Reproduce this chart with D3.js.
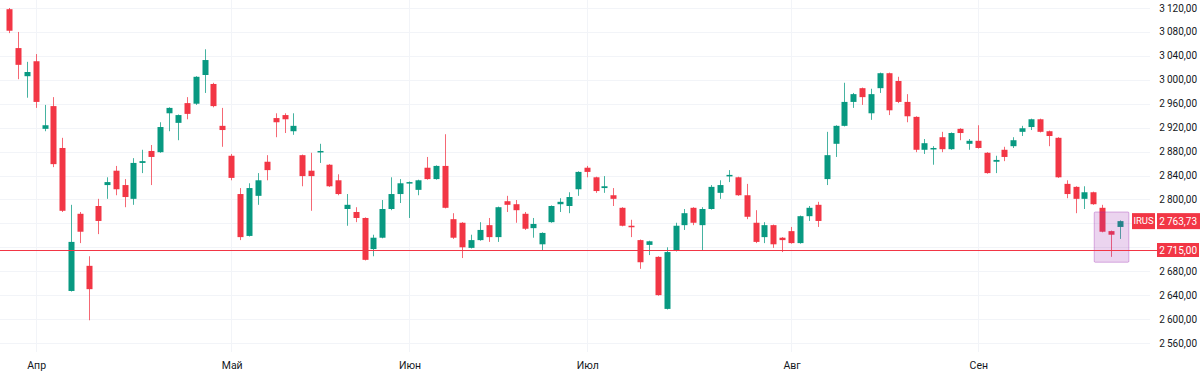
<!DOCTYPE html>
<html>
<head>
<meta charset="utf-8">
<script src="https://cdn.jsdelivr.net/npm/d3@7"></script>
<style>
    html, body { margin: 0; padding: 0; background: #ffffff; }
    svg { display: block; font-family: Roboto, "Noto Sans", sans-serif; }
</style>
</head>
<body>
<svg id="chart" width="1200" height="373"></svg>
<script>
/*jslint browser: true */

// daily candles, Apr..Sep
var opens = [3118, 3053, 3006, 3031, 2918, 2956, 2886, 2647, 2776, 2689, 2789, 2824, 2848, 2824, 2801, 2861, 2881, 2879, 2944, 2928,
    2961, 2960, 3008, 2993, 2923, 2873, 2809, 2739, 2806, 2863, 2936, 2941, 2914, 2874, 2848, 2879, 2858, 2832, 2784, 2779,
    2769, 2717, 2736, 2784, 2809, 2827, 2816, 2853, 2834, 2856, 2767, 2761, 2719, 2732, 2757, 2737, 2797, 2792, 2776, 2752,
    2725, 2762, 2792, 2789, 2817, 2853, 2837, 2819, 2807, 2786, 2756, 2732, 2724, 2704, 2617, 2714, 2757, 2786, 2757, 2784,
    2811, 2839, 2837, 2807, 2761, 2737, 2757, 2736, 2747, 2727, 2772, 2791, 2834, 2893, 2923, 2963, 2986, 2944, 2986, 3011,
    2998, 2963, 2938, 2883, 2884, 2904, 2884, 2918, 2893, 2898, 2878, 2863, 2883, 2889, 2913, 2921, 2934, 2914, 2903, 2826,
    2821, 2801, 2812, 2786, 2747, 2754];
var highs = [3120, 3080, 3030, 3043, 2958, 2971, 2903, 2791, 2779, 2705, 2801, 2837, 2856, 2834, 2869, 2883, 2891, 2929, 2954, 2942,
    2971, 3006, 3051, 2995, 2953, 2876, 2819, 2827, 2844, 2874, 2944, 2944, 2944, 2875, 2878, 2893, 2859, 2842, 2809, 2787,
    2770, 2741, 2799, 2837, 2834, 2830, 2833, 2871, 2857, 2909, 2777, 2762, 2741, 2762, 2769, 2788, 2806, 2799, 2779, 2769,
    2745, 2790, 2802, 2812, 2847, 2856, 2838, 2839, 2819, 2787, 2766, 2733, 2731, 2705, 2720, 2761, 2784, 2787, 2787, 2824,
    2832, 2849, 2838, 2826, 2782, 2762, 2758, 2737, 2754, 2773, 2789, 2796, 2913, 2924, 2995, 2978, 2987, 2985, 3012, 3012,
    3005, 2976, 2939, 2901, 2889, 2913, 2912, 2919, 2901, 2924, 2879, 2873, 2888, 2904, 2923, 2935, 2935, 2915, 2904, 2832,
    2822, 2822, 2813, 2791, 2748, 2765];
var lows = [3078, 3001, 2970, 2953, 2914, 2854, 2779, 2646, 2727, 2598, 2742, 2801, 2807, 2787, 2791, 2844, 2824, 2878, 2914, 2899,
    2934, 2958, 2978, 2954, 2888, 2832, 2732, 2738, 2791, 2832, 2904, 2911, 2908, 2822, 2781, 2861, 2821, 2807, 2756, 2762,
    2698, 2705, 2735, 2782, 2794, 2769, 2807, 2833, 2833, 2785, 2734, 2702, 2718, 2731, 2729, 2729, 2779, 2761, 2749, 2736,
    2714, 2761, 2779, 2777, 2806, 2837, 2811, 2811, 2789, 2755, 2737, 2684, 2707, 2639, 2616, 2713, 2749, 2757, 2715, 2783,
    2801, 2829, 2806, 2767, 2727, 2727, 2719, 2712, 2726, 2726, 2764, 2754, 2824, 2871, 2922, 2953, 2958, 2933, 2978, 2941,
    2961, 2929, 2879, 2876, 2858, 2879, 2883, 2899, 2883, 2885, 2843, 2844, 2864, 2886, 2906, 2916, 2912, 2889, 2836, 2802,
    2777, 2784, 2791, 2745, 2704, 2734];
var closes = [3082, 3025, 3013, 2963, 2924, 2859, 2781, 2729, 2746, 2650, 2764, 2829, 2817, 2804, 2861, 2864, 2871, 2921, 2953, 2941,
    2943, 3005, 3033, 2956, 2916, 2836, 2737, 2819, 2832, 2849, 2929, 2934, 2923, 2839, 2839, 2881, 2822, 2809, 2791, 2769,
    2699, 2736, 2784, 2809, 2827, 2829, 2832, 2834, 2856, 2786, 2736, 2720, 2732, 2749, 2737, 2787, 2791, 2782, 2751, 2759,
    2744, 2789, 2796, 2804, 2846, 2846, 2814, 2822, 2801, 2756, 2754, 2695, 2730, 2640, 2712, 2756, 2777, 2761, 2784, 2821,
    2824, 2841, 2807, 2771, 2729, 2757, 2725, 2732, 2727, 2772, 2786, 2764, 2874, 2923, 2963, 2976, 2971, 2976, 3011, 2949,
    2963, 2939, 2883, 2894, 2886, 2884, 2911, 2911, 2898, 2886, 2844, 2866, 2871, 2899, 2919, 2934, 2913, 2906, 2837, 2809,
    2801, 2812, 2792, 2746, 2741, 2763.73];

var monthLabels = ["Апр", "Май", "Июн", "Июл", "Авг", "Сен"];
var monthStarts = [3, 25, 45, 65, 88, 109];   // candle index of the first session
var priceTicks = [3120, 3080, 3040, 3000, 2960, 2920, 2880, 2840, 2800, 2760, 2720, 2680, 2640, 2600, 2560];

var tickerName = "IRUS";
var lastPrice = 2763.73;
var levelPrice = 2715;
var boxRange = [122.1, 126.0];      // in candle index units
var boxPrices = [2695, 2779];

(function (d3) {
    "use strict";

    var svg = d3.select("#chart"),
        up = "#089981",
        down = "#f23645",
        paneRight = 1150,
        labelRight = 1197,
        candles, x, y, fmt, grid, g, lastY, levelY;

    candles = opens.map(function (o, i) {
        return {i: i, o: o, h: highs[i], l: lows[i], c: closes[i]};
    });

    x = d3.scaleLinear().domain([0, candles.length - 1]).range([9, 1120]);
    y = d3.scaleLinear().domain([2560, 3120]).range([343, 8]);

    fmt = d3.formatLocale({decimal: ",", thousands: "\u2009", grouping: [3], currency: ["", ""]}).format(",.2f");

    // grid
    grid = svg.append("g").attr("class", "grid");
    grid.selectAll("line.h")
        .data(priceTicks)
        .enter().append("line")
        .attr("class", "h")
        .attr("x1", 0).attr("x2", paneRight)
        .attr("y1", function (d) { return Math.round(y(d)) + 0.5; })
        .attr("y2", function (d) { return Math.round(y(d)) + 0.5; })
        .attr("stroke", "#f2f4f8");
    grid.selectAll("line.v")
        .data(monthStarts)
        .enter().append("line")
        .attr("class", "v")
        .attr("x1", function (d) { return Math.round(x(d)) + 0.5; })
        .attr("x2", function (d) { return Math.round(x(d)) + 0.5; })
        .attr("y1", 0).attr("y2", 352)
        .attr("stroke", "#f2f4f8");

    // candles
    g = svg.append("g").attr("class", "candles");
    g.selectAll("line.wick")
        .data(candles)
        .enter().append("line")
        .attr("class", "wick")
        .attr("x1", function (d) { return Math.round(x(d.i)) + 0.5; })
        .attr("x2", function (d) { return Math.round(x(d.i)) + 0.5; })
        .attr("y1", function (d) { return y(d.h); })
        .attr("y2", function (d) { return y(d.l); })
        .attr("stroke", function (d) { return d.c >= d.o ? up : down; })
        .attr("stroke-opacity", 0.75);
    g.selectAll("rect.body")
        .data(candles)
        .enter().append("rect")
        .attr("class", "body")
        .attr("x", function (d) { return Math.round(x(d.i)) - 2.5; })
        .attr("width", 6)
        .attr("y", function (d) { return y(Math.max(d.o, d.c)); })
        .attr("height", function (d) { return Math.max(1.5, Math.abs(y(d.o) - y(d.c))); })
        .attr("fill", function (d) { return d.c >= d.o ? up : down; });

    // highlight box drawn over the last sessions
    svg.append("rect")
        .attr("x", x(boxRange[0]))
        .attr("width", x(boxRange[1]) - x(boxRange[0]))
        .attr("y", y(boxPrices[1]))
        .attr("height", y(boxPrices[0]) - y(boxPrices[1]))
        .attr("fill", "rgba(156, 39, 176, 0.2)")
        .attr("stroke", "rgba(156, 39, 176, 0.35)")
        .attr("rx", 1);

    // horizontal level
    levelY = Math.round(y(levelPrice)) + 0.5;
    svg.append("line")
        .attr("x1", 0).attr("x2", 1157)
        .attr("y1", levelY).attr("y2", levelY)
        .attr("stroke", down);

    // price scale (2720 and 2760 sit under the labels, as in the source)
    svg.append("g").selectAll("text")
        .data(priceTicks.filter(function (d) { return d !== 2720 && d !== 2760; }))
        .enter().append("text")
        .attr("x", labelRight)
        .attr("y", function (d) { return y(d); })
        .attr("dy", "0.35em")
        .attr("text-anchor", "end")
        .attr("font-size", 10)
        .attr("fill", "#131722")
        .text(fmt);

    // time scale
    svg.append("g").selectAll("text")
        .data(monthStarts)
        .enter().append("text")
        .attr("x", function (d) { return x(d) + 1; })
        .attr("y", 365)
        .attr("dy", "0.35em")
        .attr("text-anchor", "middle")
        .attr("font-size", 10.5)
        .attr("fill", "#131722")
        .text(function (d, i) { return monthLabels[i]; });

    // last price + ticker label
    lastY = y(lastPrice);
    svg.append("rect")
        .attr("x", 1132).attr("y", lastY - 8)
        .attr("width", 23).attr("height", 16)
        .attr("fill", down);
    svg.append("text")
        .attr("x", 1143.5).attr("y", lastY)
        .attr("dy", "0.35em")
        .attr("text-anchor", "middle")
        .attr("font-size", 9.5)
        .attr("fill", "#ffffff")
        .text(tickerName);
    svg.append("rect")
        .attr("x", 1157).attr("y", lastY - 8)
        .attr("width", 43).attr("height", 16)
        .attr("fill", down);
    svg.append("text")
        .attr("x", labelRight).attr("y", lastY)
        .attr("dy", "0.35em")
        .attr("text-anchor", "end")
        .attr("font-size", 10)
        .attr("fill", "#ffffff")
        .text(fmt(lastPrice));

    // level label
    svg.append("rect")
        .attr("x", 1157).attr("y", levelY - 7.5)
        .attr("width", 42).attr("height", 14)
        .attr("fill", down);
    svg.append("text")
        .attr("x", labelRight).attr("y", levelY)
        .attr("dy", "0.35em")
        .attr("text-anchor", "end")
        .attr("font-size", 10)
        .attr("fill", "#ffffff")
        .text(fmt(levelPrice));

}(window.d3));
</script>
</body>
</html>
